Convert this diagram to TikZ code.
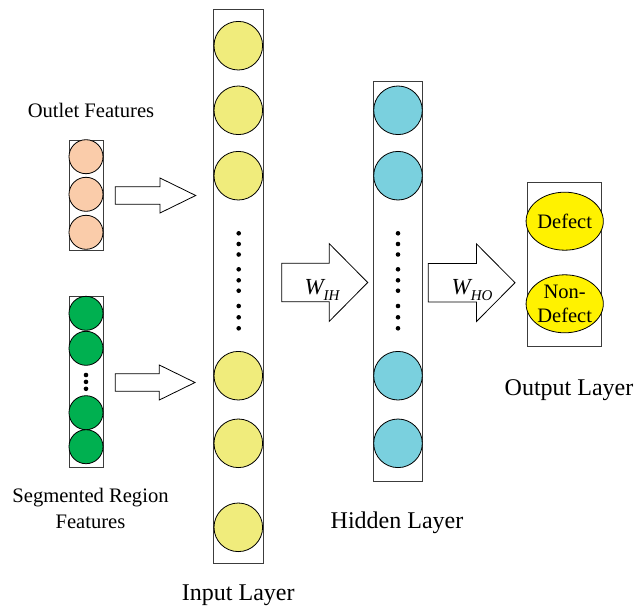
\documentclass[tikz,border=0pt]{standalone}
\usepackage{fontspec}
\setmainfont{Liberation Serif}
\usetikzlibrary{shapes.geometric}
\definecolor{peach}{RGB}{250,204,170}
\definecolor{leaf}{RGB}{0,176,80}
\definecolor{khaki}{RGB}{240,236,124}
\definecolor{sky}{RGB}{122,208,222}
\definecolor{frame}{RGB}{60,60,60}
\tikzset{
  column/.style={draw=frame, line width=0.8pt, fill=white},
  unit/.style={circle, draw=black, line width=0.8pt, inner sep=0pt},
  inunit/.style={unit, fill=khaki, minimum size=48.6pt},
  hidunit/.style={unit, fill=sky, minimum size=48.6pt},
  outletunit/.style={unit, fill=peach, minimum size=34pt},
  segunit/.style={unit, fill=leaf, minimum size=34pt},
  outunit/.style={ellipse, draw=black, line width=0.8pt, fill=yellow, minimum width=74pt, minimum height=58pt, inner sep=0pt, align=center, font=\fontsize{20.5}{23.3}\selectfont},
  blockarrow/.style={draw=black, line width=0.8pt, fill=white, line join=miter},
  featlabel/.style={align=center, font=\fontsize{20.6}{25.3}\selectfont},
  layerlabel/.style={font=\fontsize{24}{28}\selectfont},
  weightlabel/.style={font=\fontsize{23}{26}\selectfont\itshape, inner sep=0pt},
  dotmark/.style={circle, fill=black, inner sep=0pt}
}
% block arrow: body start, head start, tip, centre y, half body height, half head height
\newcommand\fatarrow[6]{%
  \draw[blockarrow] (#1,#4-#5) -- (#2,#4-#5) -- (#2,#4-#6) -- (#3,#4)
    -- (#2,#4+#6) -- (#2,#4+#5) -- (#1,#4+#5) -- cycle;}
\begin{document}
\begin{tikzpicture}[x=1pt, y=-1pt]
\useasboundingbox (0,0) rectangle (634,607);

% ---- outlet features column
\draw[column] (69,140) rectangle (103.7,250.7);
\node[outletunit] (o1) at (86,156.7) {};
\node[outletunit] (o2) at (86,194.3) {};
\node[outletunit] (o3) at (86,232.3) {};
\node[featlabel, anchor=base] (olab) at (91,117.3) {Outlet Features};

% ---- segmented region features column
\draw[column] (69,296) rectangle (103.7,467.7);
\node[segunit] (s1) at (86,313.3) {};
\node[segunit] (s2) at (86,348.3) {};
\node[segunit] (s3) at (86,412.7) {};
\node[segunit] (s4) at (86,446.7) {};
\foreach \y [count=\i] in {375,381.9,388.8}
  \node[dotmark, minimum size=4.6pt] (sd\i) at (86,\y) {};
% base anchor of a two-line label sits on its last line
\node[featlabel, anchor=base] (slab) at (90.5,528) {Segmented Region\\Features};

% ---- input layer
\draw[column] (213.7,9.3) rectangle (263,563.3);
\foreach \y [count=\i] in {45.7,110.3,175.7,375.7,443.3,527.3}
  \node[inunit] (in\i) at (238.3,\y) {};
\foreach \y [count=\i] in {233.3,244,254.5,269.3,280.3,290.7,306,317.3,328.3}
  \node[dotmark, minimum size=4.6pt] (id\i) at (238.7,\y) {};
\node[layerlabel, anchor=base] (inlab) at (238.3,600.7) {Input Layer};

% ---- hidden layer
\draw[column] (373.3,81.7) rectangle (422.3,481.7);
\foreach \y [count=\i] in {110.3,175.7,375.7,443.3}
  \node[hidunit] (hid\i) at (398,\y) {};
\foreach \y [count=\i] in {233.3,244,254.5,269.3,280.3,290.7,306,317.3,328.3}
  \node[dotmark, minimum size=4.6pt] (hd\i) at (398,\y) {};
\node[layerlabel, anchor=base] (hidlab) at (397,528.3) {Hidden Layer};

% ---- output layer
\draw[column] (527.7,182.7) rectangle (601.7,346.7);
\node[outunit] (def) at (564.7,221.2) {Defect};
\node[outunit] (nondef) at (564.7,303.8) {Non-\\Defect};
\node[layerlabel, anchor=base] (outlab) at (569,395) {Output Layer};

% ---- block arrows between stages
\fatarrow{115.3}{160}{195.7}{195.5}{8.8}{17.5}
\fatarrow{115.3}{159.3}{195}{382.5}{8.8}{17.5}
\fatarrow{281.7}{329.3}{367.7}{282.5}{19.3}{38.8}
\fatarrow{428.3}{476.5}{515}{282.7}{19.3}{38.8}
\node[weightlabel, anchor=base] (wih) at (322,294) {W\raisebox{-0.28em}{\fontsize{15}{15}\selectfont IH}};
\node[weightlabel, anchor=base] (who) at (472,294.5) {W\raisebox{-0.28em}{\fontsize{15}{15}\selectfont HO}};
\end{tikzpicture}
\end{document}
